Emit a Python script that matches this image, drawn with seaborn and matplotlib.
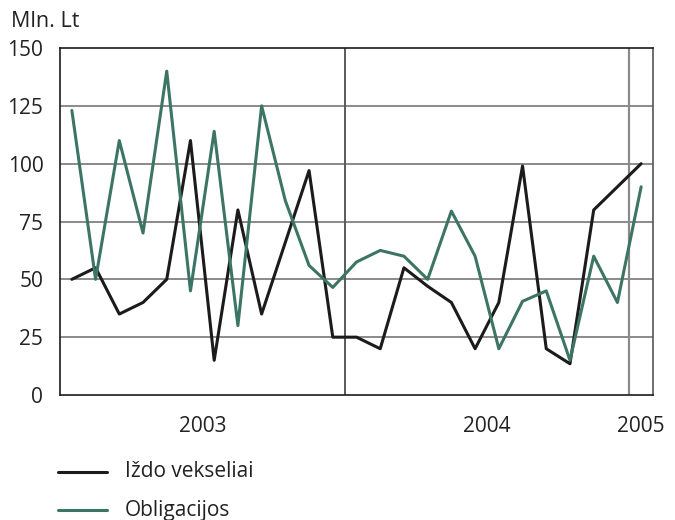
import numpy as np
import pandas as pd
import matplotlib
matplotlib.use("Agg")
import matplotlib.pyplot as plt
import seaborn as sns

# ==========================================
# DATA (monthly, Jan 2003 - Jan 2005, Mln. Lt)
# ==========================================
months = pd.period_range("2003-01", "2005-01", freq="M").astype(str).tolist()
izdo_vekseliai = [50, 55, 35, 40, 50, 110, 15, 80, 35, 66, 97, 25,
                  25, 20, 55, 47, 40, 20, 40, 99, 20, 13.5, 80, 90,
                  100]
obligacijos = [123, 50, 110, 70, 140, 45, 114, 30, 125, 84, 56, 46.5,
               57.5, 62.5, 60, 50, 79.5, 60, 20, 40.5, 45, 15, 60, 40,
               90]
year_labels = ["2003", "2004", "2005"]
y_ticks = [0, 25, 50, 75, 100, 125, 150]

BLACK = "#1c1a1b"
GREEN = "#3c7564"
TEXT = "#222222"

# long table, x = month centre (months since Jan 2003)
df = pd.DataFrame({
    "x": np.arange(len(months)) + 0.5,
    "Iždo vekseliai": izdo_vekseliai,
    "Obligacijos": obligacijos,
}).melt(id_vars="x", var_name="series", value_name="value")

sns.set_style("white")
plt.rcParams["font.family"] = ["Open Sans", "DejaVu Sans"]

fig = plt.figure(figsize=(6.75, 5.2), dpi=100)
ax = fig.add_axes([60 / 675, 1 - 395 / 520, 593 / 675, 347 / 520])

# gridlines
for v in y_ticks[1:-1]:
    ax.axhline(v, color="#8a8a8a", lw=1.4, zorder=1)
ax.axvline(12, color="#5a5a5a", lw=1.4, zorder=1)
ax.axvline(24, color="#8a8a8a", lw=1.6, zorder=1)

sns.lineplot(data=df, x="x", y="value", hue="series",
             palette={"Iždo vekseliai": BLACK, "Obligacijos": GREEN},
             lw=2.2, ax=ax, legend=False, zorder=3)

ax.set_xlim(0, 25)
ax.set_ylim(0, 150)
ax.set_xlabel("")
ax.set_ylabel("")

for s in ax.spines.values():
    s.set_color(BLACK)
    s.set_linewidth(1.2)
ax.spines["right"].set_color("#555555")

ax.set_yticks(y_ticks)
ax.set_yticklabels([str(v) for v in y_ticks], fontsize=15, color=TEXT)
ax.tick_params(axis="y", length=7, width=1.2, color="#8a8a8a", pad=5)

# year boundaries as ticks, year names centred in each year
ax.set_xticks([0, 12, 24])
ax.set_xticklabels([])
ax.tick_params(axis="x", which="major", length=10, width=1.2, color="#666666")
ax.set_xticks([6, 18, 24.5], minor=True)
ax.set_xticklabels(year_labels, minor=True, fontsize=15, color=TEXT)
ax.tick_params(axis="x", which="minor", length=0, pad=15)

fig.text(11 / 675, 1 - 27 / 520, "Mln. Lt", fontsize=15.5, color=TEXT,
         va="baseline", ha="left")

# legend below the chart
for yy, yt, lab, col in [(472, 477, "Iždo vekseliai", BLACK),
                         (510, 516, "Obligacijos", GREEN)]:
    fig.add_artist(plt.Line2D([58 / 675, 107 / 675], [1 - yy / 520, 1 - yy / 520],
                              color=col, lw=2.2))
    fig.text(125 / 675, 1 - yt / 520, lab, fontsize=15, color=TEXT,
             va="baseline", ha="left")

fig.savefig("out.png", dpi=100)
